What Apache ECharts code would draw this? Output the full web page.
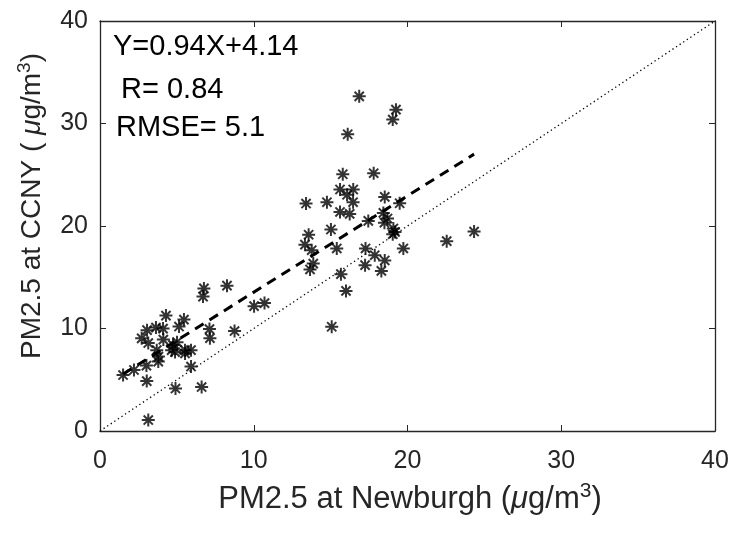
<!DOCTYPE html>
<html>
<head>
<meta charset="utf-8">
<script src="https://cdn.jsdelivr.net/npm/echarts@6/dist/echarts.min.js"></script>
<style>html,body{margin:0;padding:0;background:#fff}#c{width:737px;height:534px}</style>
</head>
<body>
<div id="c"></div>
<script>
// Newburgh (x) vs CCNY (y) PM2.5 values, µg/m3
var newburgh = [
  1.50, 2.21, 3.02, 3.04, 3.14, 2.71, 3.06, 3.14, 3.64, 4.10, 4.12, 4.29, 3.69, 3.80, 3.79,
  4.66, 4.75, 5.01, 4.88, 5.14, 5.46, 5.53, 5.53, 5.92, 5.92, 4.91, 6.61, 6.76, 6.70, 8.26,
  7.12, 7.15, 8.75, 10.02, 10.70,
  16.86, 19.25, 19.04, 16.11, 15.79, 17.80, 13.40, 14.76, 15.61, 16.47, 16.07, 16.46, 18.52,
  19.49, 15.61, 16.24, 18.43, 18.70, 18.50, 17.45, 19.08, 19.19, 19.04, 15.02, 13.57, 13.33,
  13.77, 15.40, 17.27, 17.87, 18.52, 19.73, 22.55, 24.33, 17.24, 13.87, 13.66, 18.30, 15.67,
  16.00, 15.07
];
var ccny = [
  5.46, 5.95, 6.38, 4.87, 1.07, 9.04, 9.84, 8.58, 10.09, 9.99, 8.92, 11.26, 7.89, 7.26, 6.77,
  7.89, 8.38, 8.67, 7.70, 10.19, 10.87, 7.89, 7.57, 7.89, 6.29, 4.14, 4.29, 13.91, 13.11, 14.18,
  9.94, 9.06, 9.75, 12.18, 12.48,
  32.65, 31.35, 30.38, 28.95, 25.05, 25.15, 22.19, 22.32, 23.56, 23.56, 23.05, 22.32, 22.84,
  22.22, 21.37, 21.18, 21.28, 20.73, 20.32, 20.50, 19.76, 19.42, 19.20, 19.66, 19.15, 18.18,
  17.64, 17.81, 17.81, 17.15, 16.64, 17.81, 18.52, 19.46, 16.18, 16.33, 15.76, 15.62, 15.30,
  13.67, 10.17
];
var fitSlope = 0.94;
var fitIntercept = 4.14;
var oneToOne = [[0, 0], [40, 40]];
var axisTicks = [0, 10, 20, 30, 40];
var statsText = ['Y=0.94X+4.14', ' R= 0.84', 'RMSE= 5.1'];

var points = newburgh.map(function (x, i) { return [x, ccny[i]]; });
var xMin = Math.min.apply(null, newburgh), xMax = Math.max.apply(null, newburgh);
var fitLine = [[xMin, fitSlope * xMin + fitIntercept], [xMax, fitSlope * xMax + fitIntercept]];

var FONT = '"Liberation Sans", Arial, Helvetica, sans-serif';
var AX = '#262626';
var star = 'path://M5,0L5,10M0,5L10,5M1.46,1.46L8.54,8.54M8.54,1.46L1.46,8.54';

var chart = echarts.init(document.getElementById('c'), null, {renderer: 'canvas'});
function axisBase(pos, labels, margin) {
  return {
    type: 'value', min: axisTicks[0], max: axisTicks[axisTicks.length - 1], interval: 10,
    position: pos,
    axisLine: {show: true, onZero: false, lineStyle: {color: AX, width: 1.3}},
    axisTick: {show: true, inside: true, length: 6, lineStyle: {color: AX, width: 1}},
    splitLine: {show: false},
    axisLabel: {show: labels, color: AX, fontSize: 25, fontFamily: FONT, margin: margin}
  };
}
chart.setOption({
  animation: false,
  backgroundColor: '#fff',
  grid: {left: 100, top: 21, right: 22, bottom: 103, containLabel: false},
  xAxis: [axisBase('bottom', true, 18), axisBase('top', false, 8)],
  yAxis: [axisBase('left', true, 12), axisBase('right', false, 8)],
  series: [
    {
      type: 'line', data: oneToOne, symbol: 'none', silent: true,
      lineStyle: {color: '#000', width: 1.3, type: [1.3, 3]}
    },
    {
      type: 'line', data: fitLine, symbol: 'none', silent: true,
      lineStyle: {color: '#000', width: 3, type: [10, 7]}
    },
    {
      type: 'scatter', data: points, symbol: star, symbolSize: 13, silent: true,
      itemStyle: {color: 'rgba(0,0,0,0)', borderColor: '#000', borderWidth: 2}
    }
  ],
  graphic: [
    {type: 'text', left: 113, top: 32, style: {text: statsText[0], font: '29px ' + FONT, fill: '#000'}},
    {type: 'text', left: 113, top: 75, style: {text: statsText[1], font: '29px ' + FONT, fill: '#000'}},
    {type: 'text', left: 116, top: 113, style: {text: statsText[2], font: '29px ' + FONT, fill: '#000'}},
    {
      type: 'text', x: 410, y: 499,
      style: {
        text: 'PM2.5 at Newburgh ({mu|μ}g/m{sup|3})',
        font: '31px ' + FONT, fill: AX, align: 'center', verticalAlign: 'middle',
        rich: {mu: {fontStyle: 'italic', fontSize: 31, fontFamily: FONT, fill: AX},
               sup: {fontSize: 21, fontFamily: FONT, verticalAlign: 'top', lineHeight: 37, padding: [0, 0, 15, 0]}}
      }
    },
    {
      type: 'text', x: 32, y: 206, rotation: Math.PI / 2,
      style: {
        text: 'PM2.5 at CCNY ( {mu|μ}g/m{sup|3})',
        font: '28px ' + FONT, fill: AX, align: 'center', verticalAlign: 'middle',
        rich: {mu: {fontStyle: 'italic', fontSize: 28, fontFamily: FONT, fill: AX},
               sup: {fontSize: 19, fontFamily: FONT, verticalAlign: 'top', lineHeight: 34, padding: [0, 0, 14, 0]}}
      }
    }
  ]
});
</script>
</body>
</html>
